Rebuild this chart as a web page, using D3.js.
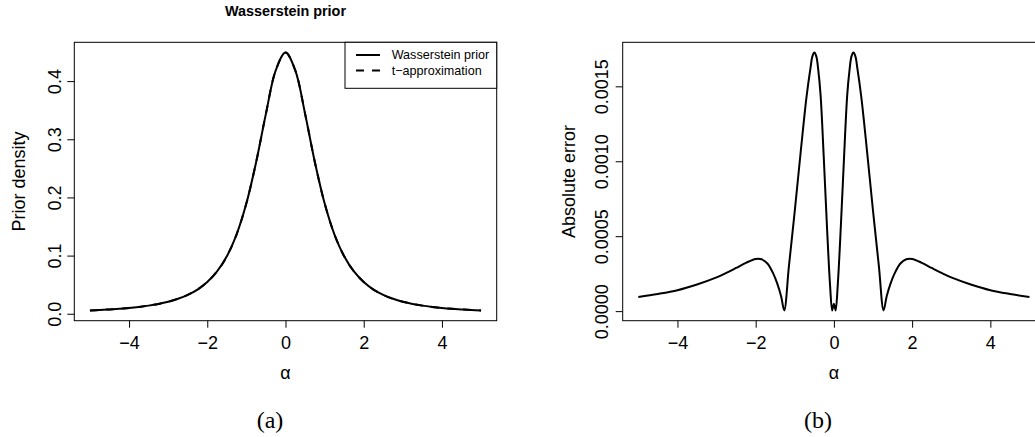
<!DOCTYPE html>
<html>
<head>
<meta charset="utf-8">
<script src="https://cdn.jsdelivr.net/npm/d3@7"></script>
<style>
  html, body { margin: 0; padding: 0; background: #fff; }
  svg { display: block; }
  text { font-family: "Liberation Sans", Arial, Helvetica, sans-serif; fill: #000; }
</style>
</head>
<body>
<svg id="chart" width="1035" height="437"></svg>
<script>
// ---------- data ----------
const densityAlpha = [-5, -4.75, -4.5, -4.25, -4, -3.75, -3.5, -3.25, -3, -2.75, -2.5, -2.25, -2, -1.75, -1.5, -1.25, -1, -0.75, -0.5, -0.25, 0,
                      0.25, 0.5, 0.75, 1, 1.25, 1.5, 1.75, 2, 2.25, 2.5, 2.75, 3, 3.25, 3.5, 3.75, 4, 4.25, 4.5, 4.75, 5];
const wassersteinPrior = [0.0058, 0.0065, 0.0075, 0.0086, 0.0100, 0.0118, 0.0140, 0.0169, 0.0207, 0.0257, 0.0324, 0.0416, 0.0546, 0.0727, 0.0988, 0.1366, 0.1899, 0.2609, 0.3441, 0.4183, 0.4490,
                          0.4183, 0.3441, 0.2609, 0.1899, 0.1366, 0.0988, 0.0727, 0.0546, 0.0416, 0.0324, 0.0257, 0.0207, 0.0169, 0.0140, 0.0118, 0.0100, 0.0086, 0.0075, 0.0065, 0.0058];
const tApproximation = [0.0058, 0.0065, 0.0075, 0.0086, 0.0100, 0.0118, 0.0140, 0.0169, 0.0207, 0.0257, 0.0324, 0.0416, 0.0546, 0.0727, 0.0988, 0.1366, 0.1899, 0.2609, 0.3441, 0.4183, 0.4490,
                        0.4183, 0.3441, 0.2609, 0.1899, 0.1366, 0.0988, 0.0727, 0.0546, 0.0416, 0.0324, 0.0257, 0.0207, 0.0169, 0.0140, 0.0118, 0.0100, 0.0086, 0.0075, 0.0065, 0.0058];

const errorAlpha = [-5, -4.5, -4, -3.5, -3, -2.75, -2.5, -2.25, -2, -1.85, -1.7, -1.55, -1.45, -1.35, -1.27, -1.15, -1, -0.85, -0.7, -0.6, -0.55, -0.5, -0.45, -0.4, -0.34, -0.26, -0.18, -0.1, -0.045, -0.02, 0,
                    0.02, 0.045, 0.1, 0.18, 0.26, 0.34, 0.4, 0.45, 0.5, 0.55, 0.6, 0.7, 0.85, 1, 1.15, 1.27, 1.35, 1.45, 1.55, 1.7, 1.85, 2, 2.25, 2.5, 2.75, 3, 3.5, 4, 4.5, 5];
const absoluteError = [0.000095, 0.000115, 0.000140, 0.000178, 0.000225, 0.000255, 0.000288, 0.000322, 0.000348, 0.000346, 0.000318, 0.000250, 0.000185, 0.000100, 0.000005, 0.000300, 0.000670, 0.001060, 0.001430, 0.001620, 0.001700, 0.001725, 0.001700, 0.001610, 0.001440, 0.001030, 0.000580, 0.000180, 0.000005, 0.000030, 0.000050,
                       0.000030, 0.000005, 0.000180, 0.000580, 0.001030, 0.001440, 0.001610, 0.001700, 0.001725, 0.001700, 0.001620, 0.001430, 0.001060, 0.000670, 0.000300, 0.000005, 0.000100, 0.000185, 0.000250, 0.000318, 0.000346, 0.000348, 0.000322, 0.000288, 0.000255, 0.000225, 0.000178, 0.000140, 0.000115, 0.000095];

const xTicks = [-4, -2, 0, 2, 4];
const densityTicks = [0.0, 0.1, 0.2, 0.3, 0.4];
const densityTickLabels = ["0.0", "0.1", "0.2", "0.3", "0.4"];
const errorTicks = [0.0000, 0.0005, 0.0010, 0.0015];
const errorTickLabels = ["0.0000", "0.0005", "0.0010", "0.0015"];
const legendLabels = ["Wasserstein prior", "t\u2212approximation"];

// ---------- layout ----------
const svg = d3.select("#chart");
svg.append("rect").attr("width", 1035).attr("height", 437).attr("fill", "#fff");

function rExtend(ext) { const d = (ext[1] - ext[0]) * 0.04; return [ext[0] - d, ext[1] + d]; }

function panel(opts) {
  const g = svg.append("g");
  const x = d3.scaleLinear().domain(rExtend(d3.extent(opts.xs))).range([opts.left, opts.right]);
  const allY = opts.series.flatMap(s => s.ys);
  const y = d3.scaleLinear().domain(rExtend(d3.extent(allY))).range([opts.bottom, opts.top]);

  // curves
  opts.series.forEach(s => {
    const line = d3.line().x((d, i) => x(opts.xs[i])).y(d => y(d)).curve(d3.curveCatmullRom.alpha(0.5));
    g.append("path").datum(s.ys).attr("d", line)
      .attr("fill", "none").attr("stroke", "#000").attr("stroke-width", 2)
      .attr("stroke-dasharray", s.dash || null).attr("stroke-linejoin", "round");
  });

  // box
  g.append("rect").attr("x", opts.left).attr("y", opts.top)
    .attr("width", opts.right - opts.left).attr("height", opts.bottom - opts.top)
    .attr("fill", "none").attr("stroke", "#000").attr("stroke-width", 1);

  // x axis
  const xa = g.append("g").attr("transform", `translate(0,${opts.bottom})`)
    .call(d3.axisBottom(x).tickValues(xTicks).tickSize(7).tickFormat(d3.format("d")));
  xa.select(".domain").remove();
  xa.selectAll("line").attr("stroke", "#000");
  xa.selectAll("text").attr("font-size", 18).attr("dy", null).attr("y", 28.5)
    .style("font-family", "'Liberation Sans', Arial, sans-serif");

  // y axis
  const ya = g.append("g").attr("transform", `translate(${opts.left},0)`)
    .call(d3.axisLeft(y).tickValues(opts.yTicks).tickSize(7).tickFormat((d, i) => opts.yLabels[i]));
  ya.select(".domain").remove();
  ya.selectAll("line").attr("stroke", "#000");
  ya.selectAll("text").attr("font-size", 18).attr("text-anchor", "middle")
    .attr("dy", null).attr("x", 0).attr("y", -opts.tickLabelGap)
    .attr("transform", "rotate(-90)")
    .style("font-family", "'Liberation Sans', Arial, sans-serif");

  // axis titles
  const cx = (opts.left + opts.right) / 2, cy = (opts.top + opts.bottom) / 2;
  g.append("text").attr("x", cx).attr("y", 378.5).attr("text-anchor", "middle")
    .attr("font-size", 18).text("\u03b1");
  g.append("text").attr("transform", `translate(${opts.left - opts.ylabGap},${cy}) rotate(-90)`)
    .attr("text-anchor", "middle").attr("font-size", 18).text(opts.ylab);

  // subfigure caption
  g.append("text").attr("x", opts.capX).attr("y", 427.5).attr("text-anchor", "middle")
    .attr("font-size", 24).style("font-family", "'Liberation Serif', 'Times New Roman', serif")
    .text(opts.caption);
  return { g, x, y };
}

const pA = panel({
  left: 74.3, right: 496.7, top: 42.3, bottom: 320.7,
  xs: densityAlpha,
  series: [{ ys: wassersteinPrior }, { ys: tApproximation, dash: "8,8" }],
  yTicks: densityTicks, yLabels: densityTickLabels,
  tickLabelGap: 13, ylabGap: 49.5, ylab: "Prior density",
  capX: 270, caption: "(a)"
});

// title
pA.g.append("text").attr("x", (74.3 + 496.7) / 2).attr("y", 15.7).attr("text-anchor", "middle")
  .attr("font-size", 14.4).attr("font-weight", "bold").text("Wasserstein prior");

// legend
const lg = pA.g.append("g");
lg.append("rect").attr("x", 345).attr("y", 42.3).attr("width", 496.7 - 345).attr("height", 46)
  .attr("fill", "#fff").attr("stroke", "#000").attr("stroke-width", 1);
const legendRowsY = [55, 70.5];
legendLabels.forEach((lab, i) => {
  lg.append("line").attr("x1", 356).attr("x2", 380).attr("y1", legendRowsY[i]).attr("y2", legendRowsY[i])
    .attr("stroke", "#000").attr("stroke-width", 2).attr("stroke-dasharray", i === 1 ? "8,8" : null);
  lg.append("text").attr("x", 391.7).attr("y", legendRowsY[i]).attr("dy", "0.35em")
    .attr("font-size", 12.6).text(lab);
});

panel({
  left: 622.7, right: 622.7 + 422.4, top: 42.3, bottom: 320.7,
  xs: errorAlpha,
  series: [{ ys: absoluteError }],
  yTicks: errorTicks, yLabels: errorTickLabels,
  tickLabelGap: 15, ylabGap: 48, ylab: "Absolute error",
  capX: 818, caption: "(b)"
});
</script>
</body>
</html>
